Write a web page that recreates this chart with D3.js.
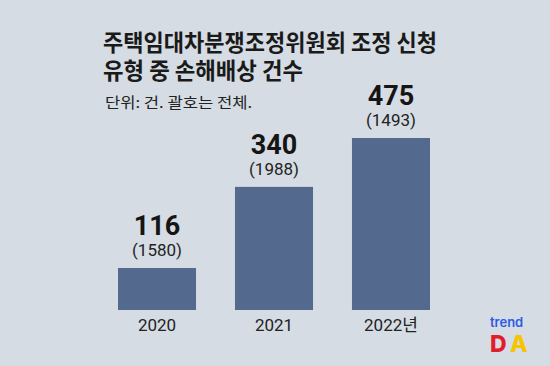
<!DOCTYPE html>
<html><head><meta charset="utf-8">
<script src="https://cdn.jsdelivr.net/npm/d3@7"></script>
<style>
html,body{margin:0;padding:0;background:#d5dce3;}
#wrap{position:relative;width:550px;height:366px;overflow:hidden;}
#wrap svg{position:absolute;left:0;top:0;}
.tline{position:absolute;left:103px;white-space:nowrap;font-family:'Noto Sans CJK KR','Noto Sans',sans-serif;font-weight:700;font-size:23px;line-height:28px;height:28px;color:#1a1a1a;transform-origin:0 0;}
</style>
</head><body>
<div id="wrap"></div>
<script>
const categories = ["2020", "2021", "2022년"];
const damageCases = [116, 340, 475];
const totalCases = [1580, 1988, 1493];
const titleLines = ["주택임대차분쟁조정위원회 조정 신청", "유형 중 손해배상 건수"];
const subtitle = "단위: 건. 괄호는 전체.";

const W = 550, H = 366;
const wrap = d3.select("#wrap");
const svg = wrap.append("svg").attr("width", W).attr("height", H);
svg.append("rect").attr("width", W).attr("height", H).attr("fill", "#d5dce3");

const kr = "'Noto Sans CJK KR', 'Noto Sans', sans-serif";
const num = "Roboto, 'Liberation Sans', sans-serif";

// title as HTML lines (line boxes of 28px each)
const tl = [{t: titleLines[0], top: 27, len: 334}, {t: titleLines[1], top: 55, len: 200}];
wrap.selectAll("div.tline").data(tl).join("div").attr("class", "tline")
  .style("top", d => d.top + "px").text(d => d.t)
  .each(function(d) {
    const w = this.getBoundingClientRect().width;
    d3.select(this).style("transform", `scaleX(${d.len / w})`);
  });

svg.append("text").attr("x", 105).attr("y", 108).text(subtitle)
  .attr("font-family", kr).attr("font-size", 15).attr("fill", "#222")
  .attr("textLength", 147).attr("lengthAdjust", "spacingAndGlyphs");

const x = d3.scaleBand().domain(categories).range([118, 430]).paddingInner(0.333).paddingOuter(0);
const y = d3.scaleLinear().domain([0, 475]).range([310, 138]);

const data = categories.map((c, i) => ({c, v: damageCases[i], t: totalCases[i]}));

svg.selectAll("rect.bar").data(data).join("rect").attr("class", "bar")
  .attr("x", d => x(d.c)).attr("width", x.bandwidth())
  .attr("y", d => y(d.v)).attr("height", d => y(0) - y(d.v))
  .attr("fill", "#536a8e");

svg.selectAll("text.val").data(data).join("text").attr("class", "val")
  .attr("x", d => x(d.c) + x.bandwidth() / 2).attr("y", d => y(d.v) - 33)
  .attr("text-anchor", "middle").text(d => d.v)
  .attr("font-family", num).attr("font-weight", 700).attr("font-size", 27).attr("fill", "#151515");

svg.selectAll("text.tot").data(data).join("text").attr("class", "tot")
  .attr("x", d => x(d.c) + x.bandwidth() / 2).attr("y", d => y(d.v) - 12)
  .attr("text-anchor", "middle").text(d => `(${d.t})`)
  .attr("font-family", num).attr("font-size", 17).attr("fill", "#222");

// x axis labels
const xAxis = d3.axisBottom(x).tickSize(0).tickPadding(9);
const gx = svg.append("g").attr("transform", "translate(0,310)").call(xAxis);
gx.select(".domain").remove();
gx.selectAll("text").attr("font-family", num + ", " + kr).attr("font-size", 17).attr("fill", "#222");

// logo
const logoFont = "Inter, 'Noto Sans', sans-serif";
svg.append("text").attr("x", 490).attr("y", 327).text("trend")
  .attr("font-family", logoFont).attr("font-weight", 600)
  .attr("font-size", 13).attr("fill", "#2d5be3");
const da = svg.append("text").attr("y", 352)
  .attr("font-family", logoFont).attr("font-weight", 800).attr("font-size", 23);
da.append("tspan").attr("x", 490).text("D").attr("fill", "#e11d2a");
da.append("tspan").attr("x", 510).text("A").attr("fill", "#f6c400");
</script>
</body></html>
